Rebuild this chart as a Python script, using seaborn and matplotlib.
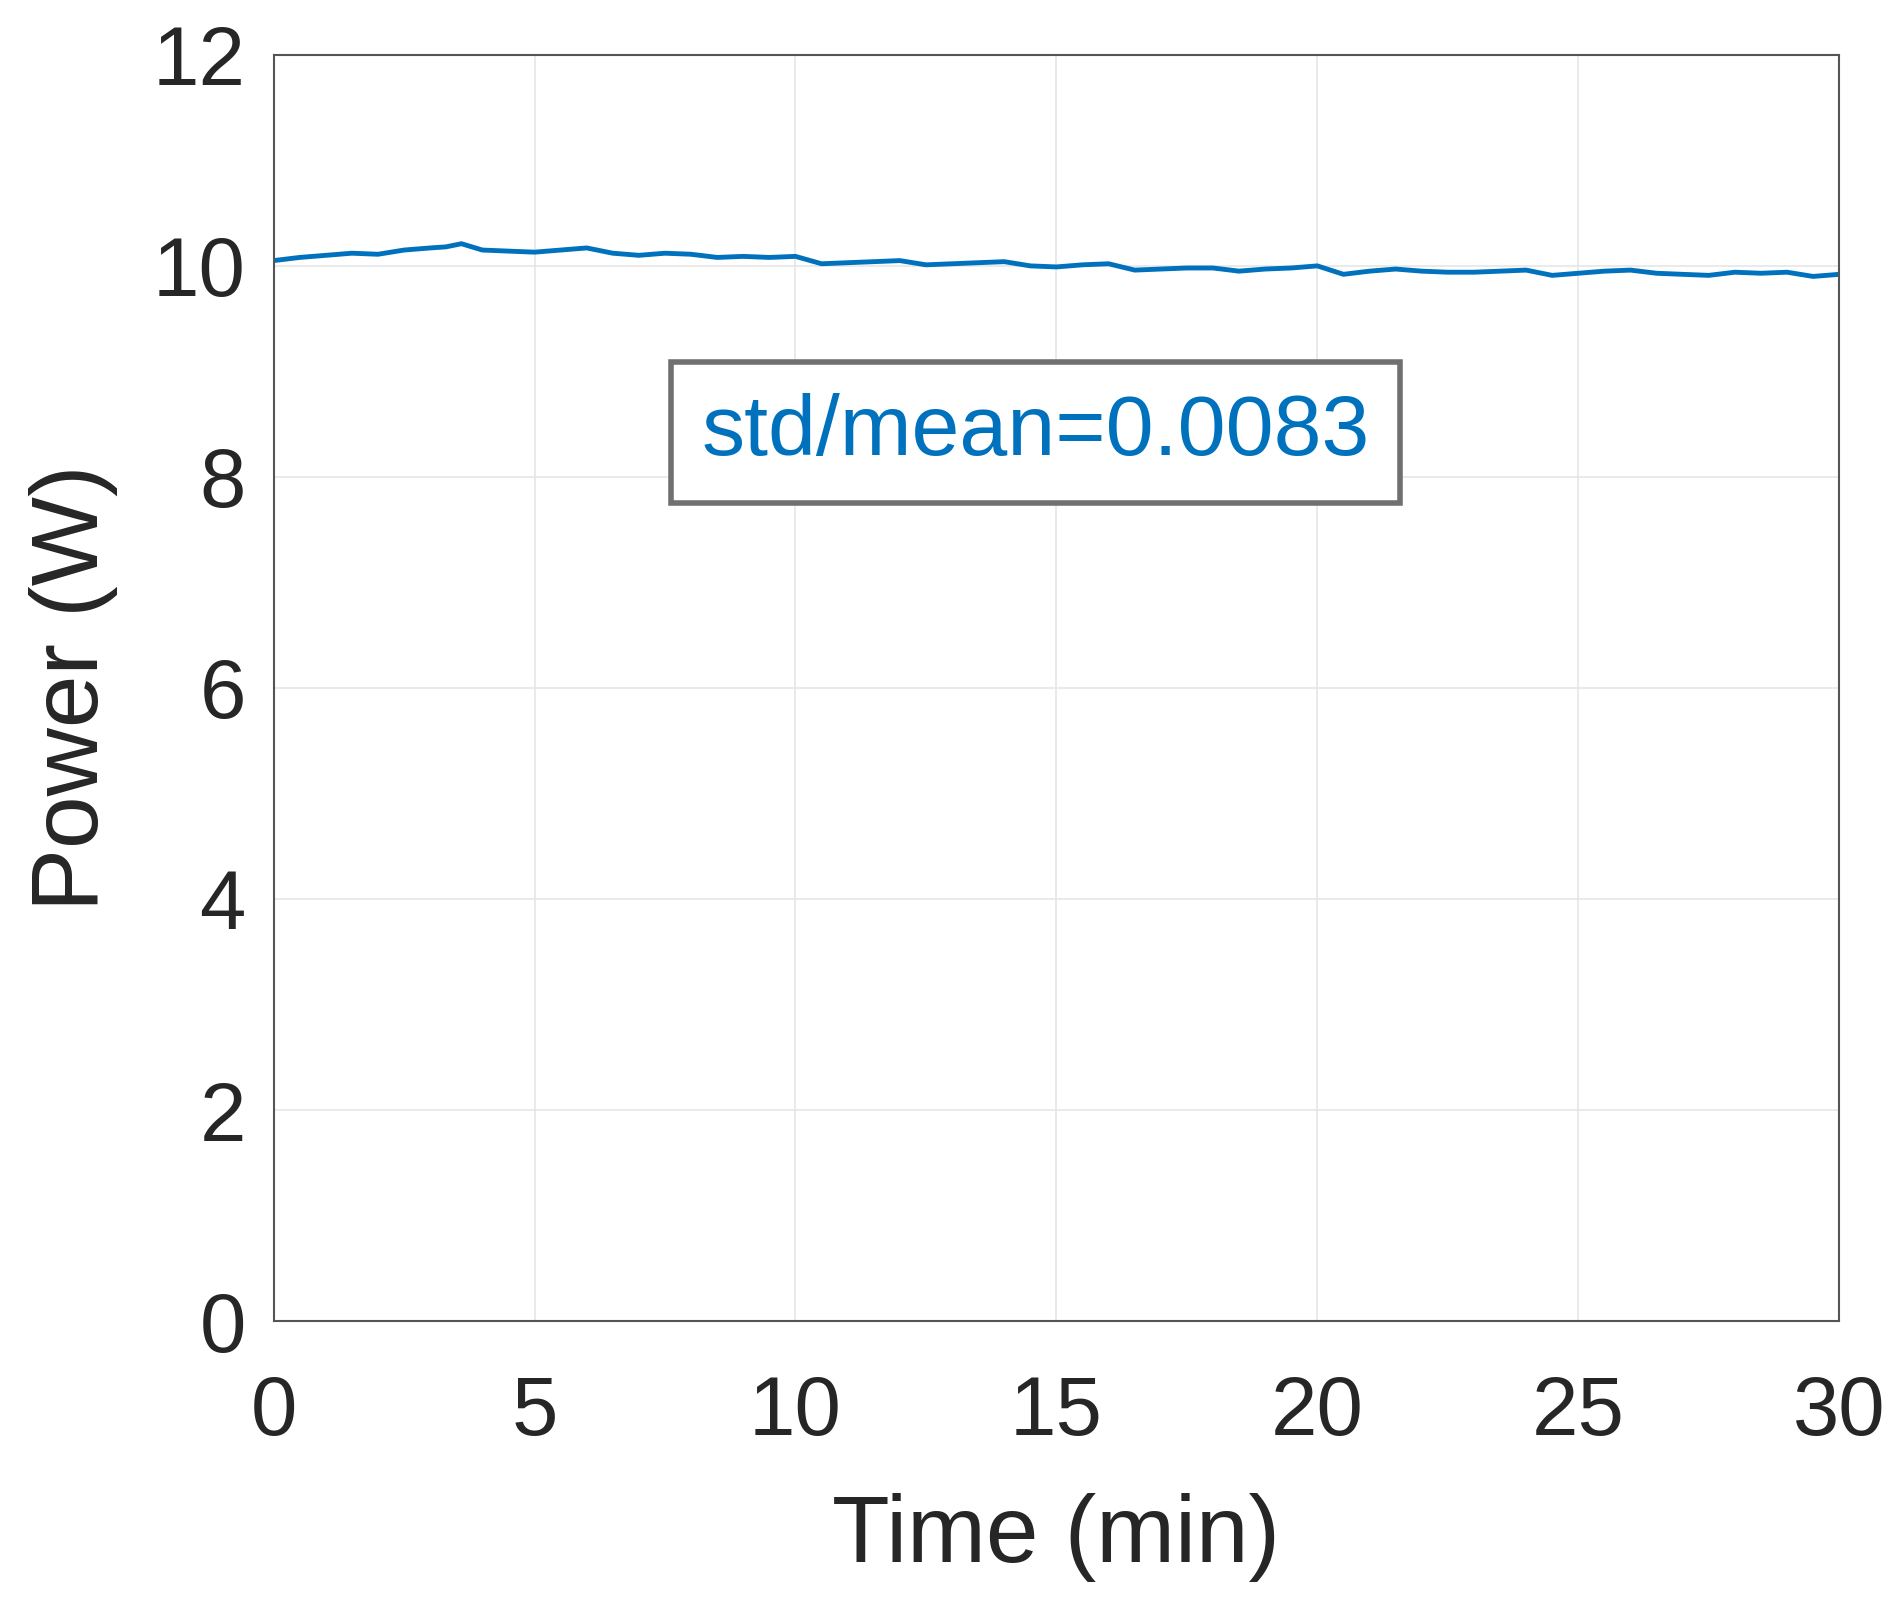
import matplotlib
matplotlib.use("Agg")
import matplotlib.pyplot as plt
import seaborn as sns
import pandas as pd

sns.set_theme(style="white")
plt.rcParams['font.family'] = ['Liberation Sans', 'DejaVu Sans']

time_min = [0, 0.5, 1, 1.5, 2, 2.5, 3, 3.3, 3.6, 4, 4.5, 5, 5.5, 6, 6.5, 7, 7.5, 8, 8.5, 9, 9.5, 10,
            10.5, 11, 11.5, 12, 12.5, 13, 13.5, 14, 14.5, 15, 15.5, 16, 16.5, 17, 17.5, 18, 18.5, 19,
            19.5, 20, 20.5, 21, 21.5, 22, 22.5, 23, 23.5, 24, 24.5, 25, 25.5, 26, 26.5, 27, 27.5, 28,
            28.5, 29, 29.5, 30]
power_w = [10.05, 10.08, 10.10, 10.12, 10.11, 10.15, 10.17, 10.18, 10.21, 10.15, 10.14, 10.13, 10.15, 10.17,
           10.12, 10.10, 10.12, 10.11, 10.08, 10.09, 10.08, 10.09, 10.02, 10.03, 10.04, 10.05, 10.01, 10.02,
           10.03, 10.04, 10.00, 9.99, 10.01, 10.02, 9.96, 9.97, 9.98, 9.98, 9.95, 9.97, 9.98, 10.00,
           9.92, 9.95, 9.97, 9.95, 9.94, 9.94, 9.95, 9.96, 9.91, 9.93, 9.95, 9.96, 9.93, 9.92, 9.91, 9.94,
           9.93, 9.94, 9.90, 9.92]

df = pd.DataFrame({"Time (min)": time_min, "Power (W)": power_w})

fig = plt.figure(figsize=(19, 16.13), dpi=100)
ax = fig.add_axes([0.144, 0.181, 0.824, 0.785])
sns.lineplot(data=df, x="Time (min)", y="Power (W)", ax=ax, color="#0072BD", linewidth=3.5)
ax.set_xlim(0, 30)
ax.set_ylim(0, 12)
ax.set_xticks(range(0, 31, 5))
ax.set_yticks(range(0, 13, 2))
ax.grid(True, color="#E6E6E6", linewidth=1.2)
for s in ax.spines.values():
    s.set_color("#555555")
    s.set_linewidth(1.5)
ax.tick_params(axis="both", labelsize=60, colors="#262626", length=0)
ax.tick_params(axis="x", pad=38)
ax.tick_params(axis="y", pad=20)
ax.set_xlabel("Time (min)", fontsize=68, color="#262626", labelpad=30)
ax.set_ylabel("Power (W)", fontsize=68, color="#262626", labelpad=25)
ax.text(14.6, 8.42, "std/mean=0.0083", fontsize=62, color="#0072BD", ha="center", va="center",
        bbox=dict(boxstyle="square,pad=0.35", facecolor="white", edgecolor="#707070", linewidth=4))
fig.savefig("out.png", dpi=100)
